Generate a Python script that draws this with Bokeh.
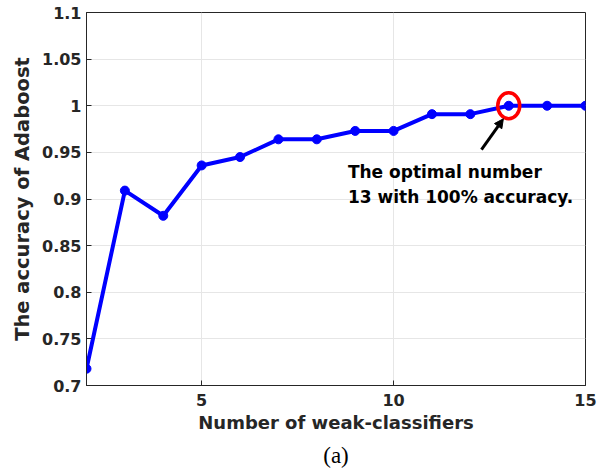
from bokeh.plotting import figure
from bokeh.models import (Range1d, LinearAxis, FixedTicker, Label, Arrow, NormalHead, Title)
from bokeh.embed import file_html
from bokeh.resources import INLINE

# data
n_weak = [2, 3, 4, 5, 6, 7, 8, 9, 10, 11, 12, 13, 14, 15]
accuracy = [0.718, 0.909, 0.882, 0.936, 0.945, 0.964, 0.964, 0.973, 0.973, 0.991, 0.991, 1.0, 1.0, 1.0]
x_ticks = [5, 10, 15]
y_ticks = [0.7, 0.75, 0.8, 0.85, 0.9, 0.95, 1.0, 1.05, 1.1]
y_tick_labels = {0.7: "0.7", 0.75: "0.75", 0.8: "0.8", 0.85: "0.85", 0.9: "0.9",
                 0.95: "0.95", 1.0: "1", 1.05: "1.05", 1.1: "1.1"}
best_x, best_y = 13, 1.0

TXT = "#262626"
FONT = "DejaVu Sans"

p = figure(width=603, height=472, output_backend="svg", toolbar_location=None,
           x_range=Range1d(2, 15), y_range=Range1d(0.7, 1.1),
           min_border_left=86, min_border_right=18, min_border_top=12, min_border_bottom=10,
           x_axis_location=None, y_axis_location=None)
p.background_fill_color = "white"
p.border_fill_color = "white"
p.outline_line_color = TXT
p.outline_line_width = 1

xaxis = LinearAxis(ticker=FixedTicker(ticks=x_ticks), axis_label="Number of weak-classifiers")
yaxis = LinearAxis(ticker=FixedTicker(ticks=y_ticks), axis_label="The accuracy of Adaboost",
                   major_label_overrides=y_tick_labels)
for ax in (xaxis, yaxis):
    ax.axis_line_color = TXT
    ax.major_tick_line_color = TXT
    ax.major_tick_in = 5
    ax.major_tick_out = 0
    ax.minor_tick_line_color = None
    ax.major_label_text_font = FONT
    ax.major_label_text_font_style = "bold"
    ax.major_label_text_font_size = "16px"
    ax.major_label_text_color = TXT
    ax.axis_label_text_font = FONT
    ax.axis_label_text_font_style = "bold"
    ax.axis_label_text_color = TXT
xaxis.axis_label_text_font_size = "18px"
yaxis.axis_label_text_font_size = "19.5px"
xaxis.major_label_standoff = 8
xaxis.axis_label_standoff = 3
yaxis.major_label_standoff = 5
yaxis.axis_label_standoff = 5
p.add_layout(xaxis, "below")
p.add_layout(yaxis, "left")

p.xgrid.ticker = FixedTicker(ticks=x_ticks)
p.ygrid.ticker = FixedTicker(ticks=y_ticks)
p.grid.grid_line_color = "#e6e6e6"
p.grid.grid_line_width = 1

cap = Title(text="(a)", align="center", text_font="Liberation Serif",
            text_font_style="normal", text_font_size="23px", text_color="black",
            offset=-8)
p.add_layout(cap, "below")

p.line(n_weak, accuracy, line_color="#0000ff", line_width=4)
p.scatter(n_weak, accuracy, size=9, fill_color="#0000ff", line_color="#0000ff")

p.ellipse(x=[best_x], y=[best_y], width=22, height=26, width_units="screen",
          height_units="screen", fill_color=None, line_color="#ff0000", line_width=3.5)

p.add_layout(Arrow(end=NormalHead(size=9, fill_color="black", line_color="black"),
                   x_start=12.29, y_start=0.953, x_end=12.86, y_end=0.986,
                   line_color="black", line_width=3))

for txt, yy in (("The optimal number", 0.929), ("13 with 100% accuracy.", 0.902)):
    p.add_layout(Label(x=8.81, y=yy, text=txt, text_font=FONT, text_font_style="bold",
                       text_font_size="17px", text_color="black",
                       text_baseline="alphabetic"))

open("out.html", "w").write(file_html(p, INLINE))
